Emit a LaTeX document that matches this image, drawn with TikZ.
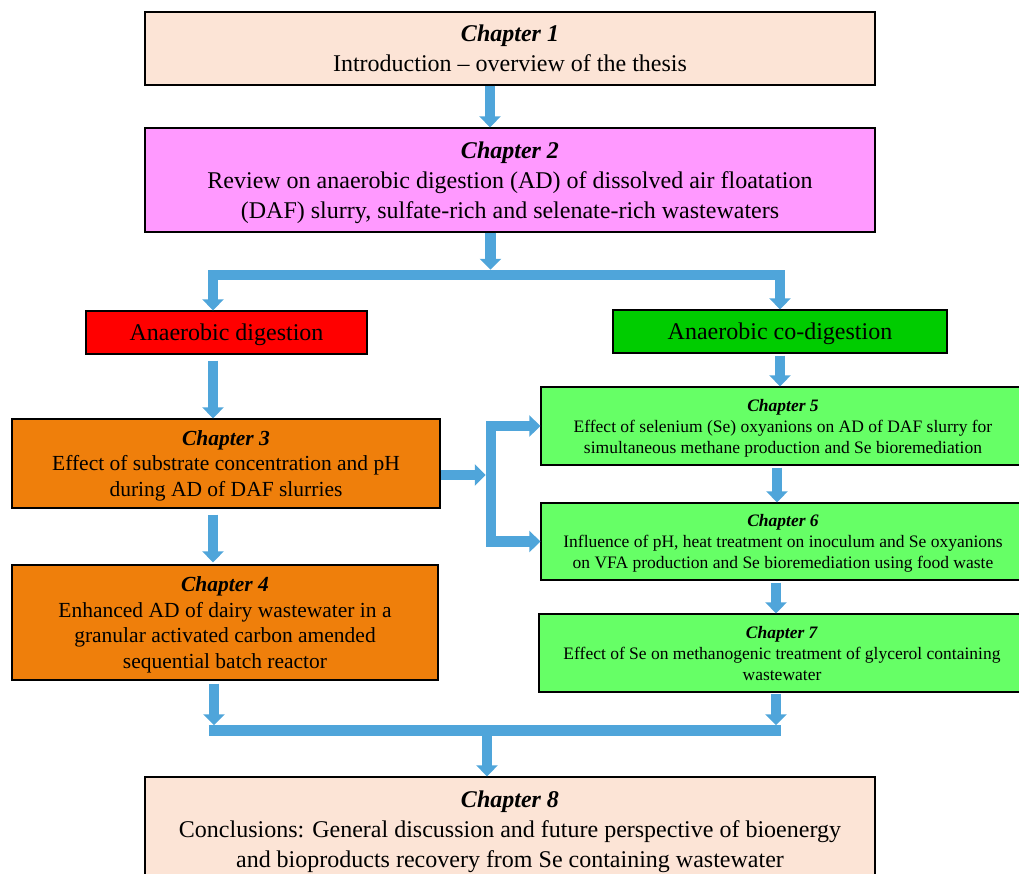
\documentclass[tikz,border=0pt]{standalone}
\usepackage{fontspec}
\setmainfont{Liberation Serif}
\usetikzlibrary{arrows.meta}
\definecolor{peach}{HTML}{FCE4D6}
\definecolor{pinkbox}{HTML}{FF99FF}
\definecolor{redbox}{HTML}{FF0000}
\definecolor{darkgreen}{HTML}{00CC00}
\definecolor{orangebox}{HTML}{EF7F0B}
\definecolor{lightgreen}{HTML}{66FF66}
\definecolor{arrowblue}{HTML}{4FA5DA}
\newcommand{\chaphead}[1]{\textbf{\textit{Chapter #1}}}

\begin{document}
\begin{tikzpicture}[x=1pt,y=-1pt,
		box/.style={draw=black,line width=1.3pt,align=center,inner sep=0pt,text depth=0pt},
		big/.style={font=\fontsize{24}{30}\selectfont},
		mid/.style={font=\fontsize{21.5}{25.5}\selectfont},
		small/.style={font=\fontsize{17.5}{21}\selectfont},
		flow/.style={draw=arrowblue,line width=10.5pt,-{Triangle[width=21pt,length=11pt]}},
		bar/.style={draw=arrowblue,line width=10.5pt}]
				\useasboundingbox (0,0) rectangle (1019,873);
				\clip (0,0) rectangle (1019,873);
				\node[box,big,fill=peach,minimum width=730,minimum height=73] (ch1) at (510,48.5) {\chaphead{1}\\Introduction -- overview of the thesis};
				\node[box,big,fill=pinkbox,minimum width=730,minimum height=104] (ch2) at (510,180) {\chaphead{2}\\Review on anaerobic digestion (AD) of dissolved air floatation\\(DAF) slurry, sulfate-rich and selenate-rich wastewaters};
				\node[box,big,fill=redbox,minimum width=281,minimum height=43] (ad) at (226.5,332.5) {Anaerobic digestion};
				\node[box,big,fill=darkgreen,minimum width=334,minimum height=43] (acd) at (780,331.5) {Anaerobic co-digestion};
				\node[box,mid,fill=orangebox,minimum width=428,minimum height=89] (ch3) at (226,463.5) {\chaphead{3}\\Effect of substrate concentration and pH\\during AD of DAF slurries};
				\node[box,mid,fill=orangebox,minimum width=426,minimum height=115] (ch4) at (225,622.5) {\chaphead{4}\\Enhanced AD of dairy wastewater in a\\granular activated carbon amended\\sequential batch reactor};
				\node[box,small,fill=lightgreen,minimum width=484,minimum height=78] (ch5) at (783,426) {\chaphead{5}\\Effect of selenium (Se) oxyanions on AD of DAF slurry for\\simultaneous methane production and Se bioremediation};
				\node[box,small,fill=lightgreen,minimum width=484,minimum height=77] (ch6) at (783,541.5) {\chaphead{6}\\Influence of pH, heat treatment on inoculum and Se oxyanions\\on VFA production and Se bioremediation using food waste};
				\node[box,small,fill=lightgreen,minimum width=486,minimum height=78] (ch7) at (782,653) {\chaphead{7}\\Effect of Se on methanogenic treatment of glycerol containing\\wastewater};
				\node[box,big,fill=peach,minimum width=730,minimum height=104] (ch8) at (510,829) {\chaphead{8}\\Conclusions: General discussion and future perspective of bioenergy\\and bioproducts recovery from Se containing wastewater};
				\coordinate (j1) at (490.5,275);
				\coordinate (j2) at (491,475);
				\coordinate (j3) at (487,730.5);
				\draw[flow] ([xshift=-20pt]ch1.south) -- ([xshift=-20pt]ch1.south |- ch2.north);
				\draw[flow,shorten >=5.25pt] ([xshift=-19.5pt]ch2.south) -- (j1);
				\draw[flow] (j1) -| ([xshift=-13.5pt]ad.north);
				\draw[flow] (j1) -| (acd.north);
				\draw[flow,shorten <=6pt] ([xshift=-13.5pt]ad.south) -- ([xshift=-13.5pt]ad.south |- ch3.north);
				\draw[flow,shorten <=2pt] (acd.south) -- (acd.south |- ch5.north);
				\draw[flow,shorten <=6pt,shorten >=2pt] ([xshift=-13pt]ch3.south) -- ([xshift=-13pt]ch3.south |- ch4.north);
				\draw[flow,shorten >=5.25pt] ([yshift=-11.5pt]ch3.east) -- (j2);
				\draw[flow] (j2) |- (ch5.west);
				\draw[flow] (j2) |- (ch6.west);
				\draw[flow,shorten <=2pt] ([xshift=-6pt]ch5.south) -- ([xshift=-6pt]ch5.south |- ch6.north);
				\draw[flow,shorten <=2pt] ([xshift=-7pt]ch6.south) -- ([xshift=-7pt]ch6.south |- ch7.north);
				\draw[flow,shorten <=3pt,shorten >=5.25pt] ([xshift=-11pt]ch4.south) -- ([xshift=-11pt]ch4.south |- j3);
				\draw[flow,shorten <=1pt,shorten >=5.25pt] ([xshift=-6pt]ch7.south) -- ([xshift=-6pt]ch7.south |- j3);
				\draw[bar] ([xshift=-16.25pt]ch4.south |- j3) -- ([xshift=-0.75pt]ch7.south |- j3);
				\draw[flow] (j3) -- (j3 |- ch8.north);
\end{tikzpicture}
\end{document}
